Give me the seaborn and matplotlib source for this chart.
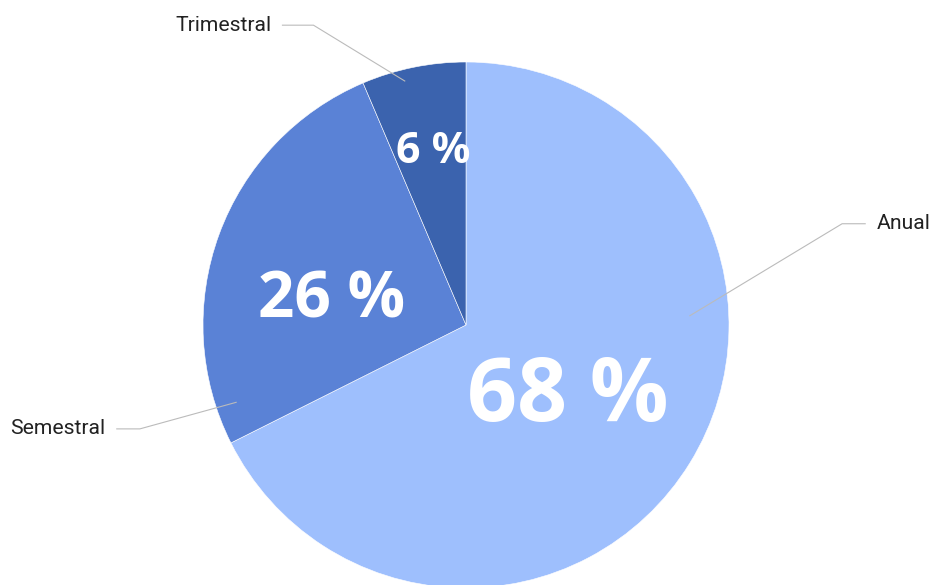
import numpy as np
import matplotlib
matplotlib.use("Agg")
import matplotlib.pyplot as plt
import seaborn as sns

sns.set_theme(style="white")
plt.rcParams["font.family"] = ["Roboto", "DejaVu Sans"]

# Periodicity shares (percent)
categories = ["Anual", "Semestral", "Trimestral"]
shares = [67.6, 26.0, 6.4]
colors = ["#9EBFFD", "#5A82D6", "#3B63AE"]

fig = plt.figure(figsize=(9.32, 5.85), dpi=100)
ax = fig.add_axes([203 / 932, (585 - 588) / 585, 526 / 932, 526 / 585])

wedges, _ = ax.pie(
    shares, colors=colors, startangle=90, counterclock=False, radius=1.0,
    wedgeprops=dict(edgecolor="white", linewidth=0.4),
)
ax.set_xlim(-1, 1)
ax.set_ylim(-1, 1)
ax.set_aspect("equal")
ax.axis("off")

# percentage labels inside the slices: (radius fraction, angle shift, font size)
inner = [(0.47, -3.0, 63), (0.52, 9.0, 46), (0.68, -1.0, 31)]
for w, val, (rf, shift, fs) in zip(wedges, shares, inner):
    mid = np.deg2rad((w.theta1 + w.theta2) / 2 + shift)
    ax.text(rf * np.cos(mid), rf * np.sin(mid) - 0.01, f"{round(val)} %",
            ha="center", va="center", color="white", fontsize=fs,
            fontweight="bold", family=["Open Sans", "DejaVu Sans"])

# outside labels with leader lines: (anchor angle, anchor radius, elbow, text pos, ha)
outer = [
    (2.3, 0.85, (1.43, 0.385), (1.56, 0.385), "left"),
    (198.6, 0.92, (-1.24, -0.395), (-1.37, -0.395), "right"),
    (104.0, 0.955, (-0.58, 1.14), (-0.74, 1.14), "right"),
]
for name, (ang, rr, elbow, tpos, ha) in zip(categories, outer):
    a = np.deg2rad(ang)
    p = (rr * np.cos(a), rr * np.sin(a))
    ax.plot([p[0], elbow[0], tpos[0] + (-0.04 if ha == "left" else 0.04)],
            [p[1], elbow[1], tpos[1]], color="#BBBBBB", lw=0.8,
            clip_on=False, solid_capstyle="butt")
    ax.text(tpos[0], tpos[1], name, ha=ha, va="center", fontsize=15.2,
            color="#222222", fontweight="normal", clip_on=False)

fig.savefig("out.png", dpi=100)
